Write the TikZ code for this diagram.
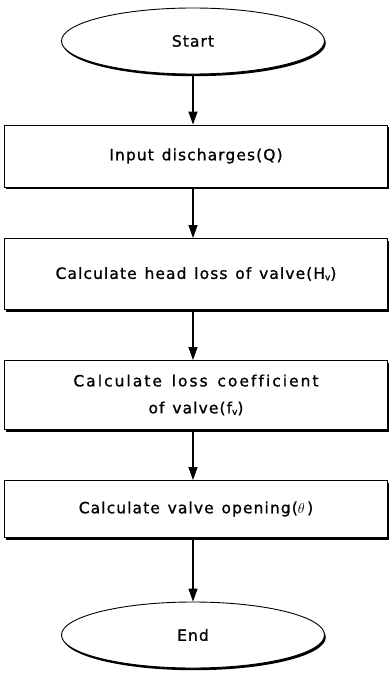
\documentclass[tikz,border=0pt]{standalone}
\usepackage{fontspec}
\setmainfont[LetterSpace=7,WordSpace=1.3,FakeBold=1,Ligatures=NoCommon]{DejaVu Sans}
\newfontfamily\widefont[LetterSpace=13,WordSpace=1.4,FakeBold=1,Ligatures=NoCommon]{DejaVu Sans}
\usetikzlibrary{shapes.geometric,shadows,arrows.meta}
\tikzset{
  shad/.style={drop shadow={fill=black,opacity=1,shadow xshift=1.3pt,shadow yshift=-2.2pt}},
  terminal/.style={ellipse,draw,line width=0.9pt,fill=white,shad,minimum width=263pt,minimum height=66pt,inner sep=0pt,font=\fontsize{15.5}{18}\selectfont},
  stepbox/.style={rectangle,draw,line width=0.9pt,fill=white,shad,minimum width=383pt,inner sep=0pt,align=center,font=\fontsize{15.5}{27}\selectfont},
  flow/.style={line width=1.2pt,-{Triangle[length=13pt,width=9pt]}}
}
\newcommand{\subv}{\raisebox{-1.5pt}{\fontsize{9}{9}\selectfont v}}
\begin{document}
\begin{tikzpicture}[x=1pt,y=-1pt]
\useasboundingbox (0,0) rectangle (391,679);
\node[terminal] (start) at (193,41) {Start};
\node[stepbox,minimum height=62pt] (b1) at (196,156) {Input discharges(Q)};
\node[stepbox,minimum height=71pt] (b2) at (196,274) {Calculate head loss of valve(H\subv)};
\node[stepbox,minimum height=69pt] (b3) at (196,395) {{\widefont Calculate loss coefficient}\\of valve(f\subv)};
\node[stepbox,minimum height=57pt] (b4) at (196,509) {Calculate valve opening($\theta\,$)};
\node[terminal] (end) at (193,635) {End};
\draw[flow] (start.south) -- (start.south |- b1.north);
\draw[flow] (start.south |- b1.south) -- (start.south |- b2.north);
\draw[flow] (start.south |- b2.south) -- (start.south |- b3.north);
\draw[flow] (start.south |- b3.south) -- (start.south |- b4.north);
\draw[flow] (start.south |- b4.south) -- (end.north);
\end{tikzpicture}
\end{document}
